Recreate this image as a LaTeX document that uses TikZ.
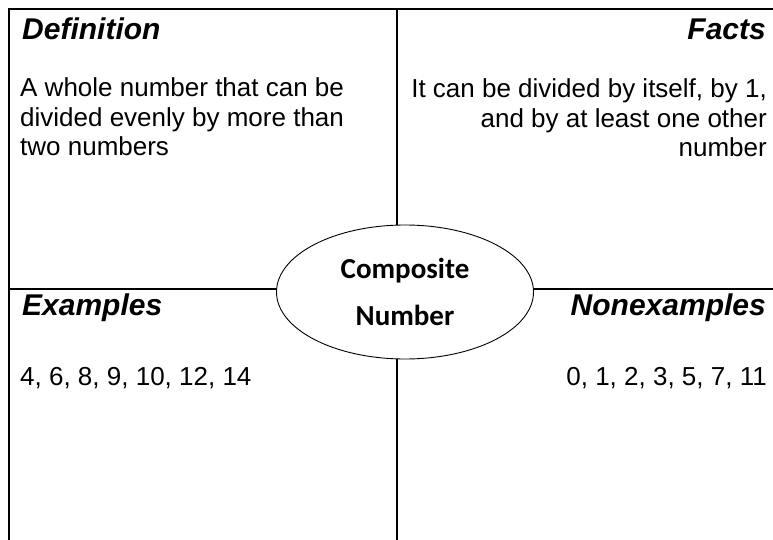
\documentclass[tikz,border=0pt]{standalone}
\usepackage{fontspec}
\setmainfont{Liberation Sans}
\newfontfamily\calibrifont{Carlito}
\usetikzlibrary{shapes.geometric}

\begin{document}
\begin{tikzpicture}[x=1pt,y=-1pt,
  rule/.style={line width=2pt},
  head/.style={inner sep=0pt,font=\fontsize{30}{30}\selectfont\bfseries\itshape},
  body/.style={inner sep=0pt,font=\fontsize{26}{29.5}\selectfont},
  word/.style={ellipse,draw,line width=0.9pt,fill=white,inner sep=0pt,
               minimum width=257pt,minimum height=134pt,align=center,
               font=\calibrifont\bfseries\fontsize{29}{47}\selectfont}
]
\useasboundingbox (0,0) rectangle (773,540);
\coordinate (tl) at (9,9);
\coordinate (tr) at (773,9);
\coordinate (bl) at (9,540);
\coordinate (top) at (397,9);
\coordinate (bot) at (397,540);
\coordinate (west) at (9,289);
\coordinate (east) at (773,289);
\draw[rule] (bl) -- (tl) -- (tr);
\draw[rule] (top) -- (bot);
\draw[rule] (west) -- (east);
\node[word] (term) at (405,292) {Composite\\Number};

\node[head,anchor=base west] (defhead) at (22,40) {Definition};
\node[head,anchor=base east] (facthead) at (766,40) {Facts};
\node[head,anchor=base west] (exhead) at (22,315) {Examples};
\node[head,anchor=base east] (nonhead) at (766,315) {Nonexamples};

\node[body,anchor=base west,align=left] (deftext) at (20,156)
  {A whole number that can be\\divided evenly by more than\\two numbers};
\node[body,anchor=base east,align=right] (facttext) at (767,157)
  {It can be divided by itself, by 1,\\and by at least one other\\number};
\node[body,anchor=base west] (extext) at (20,385) {4, 6, 8, 9, 10, 12, 14};
\node[body,anchor=base east] (nontext) at (767,385) {0, 1, 2, 3, 5, 7, 11};
\end{tikzpicture}
\end{document}
